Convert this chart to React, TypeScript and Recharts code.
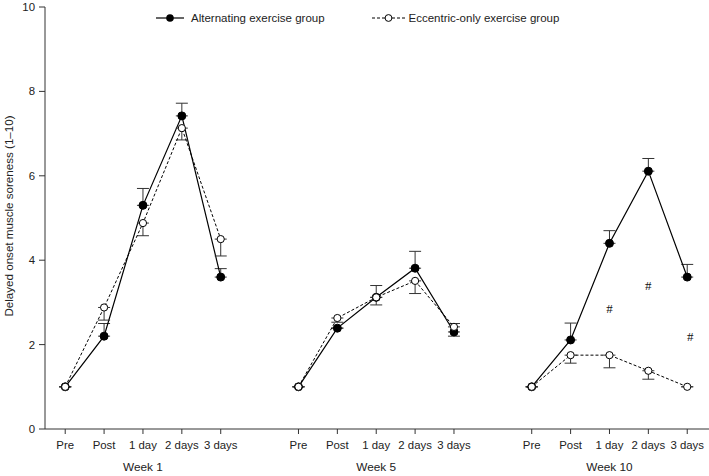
import React from 'react';
import { ComposedChart, Line, XAxis, YAxis, ErrorBar, Scatter } from 'recharts';

const categories = ['Pre', 'Post', '1 day', '2 days', '3 days'];
const weeks = ['Week 1', 'Week 5', 'Week 10'];
const seriesNames = ['Alternating exercise group', 'Eccentric-only exercise group'];
const yTicks = [0, 2, 4, 6, 8, 10];
const yLabel = 'Delayed onset muscle soreness (1\u201310)';

// per week: Pre, Post, 1 day, 2 days, 3 days
const alternating = [
  [1.0, 2.2, 5.3, 7.42, 3.6],
  [1.0, 2.39, 3.12, 3.81, 2.3],
  [1.0, 2.11, 4.4, 6.11, 3.6],
];
const altErrUp = [
  [0, 0.3, 0.4, 0.3, 0.2],
  [0, 0, 0.28, 0.4, 0],
  [0, 0.4, 0.3, 0.3, 0.3],
];
const altErrDown = [
  [0, 0, 0, 0, 0],
  [0, 0, 0, 0, 0.1],
  [0, 0, 0, 0, 0],
];
const eccentric = [
  [1.0, 2.88, 4.88, 7.13, 4.5],
  [1.0, 2.63, 3.12, 3.51, 2.42],
  [1.0, 1.75, 1.75, 1.38, 1.0],
];
const eccErrDown = [
  [0, 0.3, 0.3, 0.28, 0.4],
  [0, 0.1, 0.18, 0.3, 0],
  [0, 0.19, 0.3, 0.2, 0],
];
const eccErrUp = [
  [0, 0, 0, 0, 0],
  [0, 0, 0, 0, 0.08],
  [0, 0, 0, 0, 0],
];
// significance marks (#) in Week 10
const hashWeek = 2;
const hashCategories = ['1 day', '2 days', '3 days'];
const hashValues = [2.85, 3.39, 2.19];

const GROUP_STEP = categories.length + 1;
const pos = (w: number, c: number) => w * GROUP_STEP + c;

const weekData = weeks.map((_, w) =>
  categories.map((_, c) => ({
    x: pos(w, c),
    alt: alternating[w][c],
    altErr: [altErrDown[w][c], altErrUp[w][c]],
    ecc: eccentric[w][c],
    eccErr: [eccErrDown[w][c], eccErrUp[w][c]],
  }))
);

const hashData = hashCategories.map((c, i) => ({
  x: pos(hashWeek, categories.indexOf(c)) + (i === 2 ? 0.08 : 0),
  y: hashValues[i],
}));

const xTicks = weeks.flatMap((_, w) => categories.map((_, c) => pos(w, c)));

const FONT = '"Liberation Sans", Arial, sans-serif';

const XTick = (props: any) => {
  const { x, y, payload } = props;
  const v = payload.value as number;
  const w = Math.floor(v / GROUP_STEP);
  const c = v - w * GROUP_STEP;
  return (
    <g>
      <text x={x} y={y} dy={13} textAnchor="middle" fontSize={11.4} fill="#222" fontFamily={FONT}>
        {categories[c]}
      </text>
      {c === 2 && (
        <text x={x} y={y} dy={35} textAnchor="middle" fontSize={11.8} fill="#222" fontFamily={FONT}>
          {weeks[w]}
        </text>
      )}
    </g>
  );
};

const YLabel = () => (
  <text x={13} y={216} transform="rotate(-90 13 216)" textAnchor="middle" fontSize={11.6} fill="#222" fontFamily={FONT}>
    {yLabel}
  </text>
);

const AltDot = (props: any) => {
  const { cx, cy } = props;
  if (cx == null || cy == null) return null;
  return <circle cx={cx} cy={cy} r={4} fill="#000" stroke="#000" strokeWidth={1} />;
};
const EccDot = (props: any) => {
  const { cx, cy } = props;
  if (cx == null || cy == null) return null;
  return <circle cx={cx} cy={cy} r={3.6} fill="#fff" stroke="#000" strokeWidth={1} />;
};

const HashShape = (props: any) => {
  const { cx, cy } = props;
  return (
    <text x={cx} y={cy} dy={4.5} textAnchor="middle" fontSize={13} fill="#111" fontFamily='"Liberation Serif", serif'>
      #
    </text>
  );
};

const LegendOverlay = () => (
  <svg width={709} height={30} style={{ display: 'block', position: 'absolute', left: 0, top: 0 }}>
    <line x1={156} x2={184} y1={18} y2={18} stroke="#000" strokeWidth={1.2} />
    <circle cx={170} cy={18} r={3.8} fill="#000" />
    <text x={191} y={22} fontSize={11.5} fill="#222" fontFamily={FONT}>{seriesNames[0]}</text>
    <line x1={372} x2={405} y1={18} y2={18} stroke="#000" strokeWidth={1} strokeDasharray="3 2" />
    <circle cx={388.5} cy={18} r={3.4} fill="#fff" stroke="#000" strokeWidth={1} />
    <text x={408.5} y={22} fontSize={11.5} fill="#222" fontFamily={FONT}>{seriesNames[1]}</text>
  </svg>
);

export default function App() {
  return (
    <div style={{ position: 'absolute', left: 0, top: 0, width: 709, height: 476, background: '#fff' }}>
      <ComposedChart
        width={709}
        height={476}
        margin={{ top: 7, right: 0, bottom: 0, left: 0 }}
        style={{ fontFamily: FONT }}
      >
        <XAxis
          type="number"
          dataKey="x"
          domain={[-0.52, 16.56]}
          ticks={xTicks}
          allowDataOverflow
          height={47}
          tickSize={5}
          tickMargin={2}
          tick={<XTick />}
          axisLine={{ stroke: '#333' }}
          tickLine={{ stroke: '#333' }}
          interval={0}
        />
        <YAxis
          type="number"
          domain={[0, 10]}
          ticks={yTicks}
          width={45}
          tickSize={6}
          tickMargin={4}
          tick={{ fontSize: 11.4, fill: '#222', fontFamily: FONT }}
          axisLine={{ stroke: '#333' }}
          tickLine={{ stroke: '#333' }}
          label={<YLabel />}
        />
        {weekData.map((d, w) => (
          <Line
            key={'alt' + w}
            data={d}
            dataKey="alt"
            stroke="#000"
            strokeWidth={1.2}
            dot={<AltDot />}
            activeDot={false}
            isAnimationActive={false}
            legendType="none"
          >
            <ErrorBar dataKey="altErr" direction="y" width={6} stroke="#333" strokeWidth={1} />
          </Line>
        ))}
        {weekData.map((d, w) => (
          <Line
            key={'ecc' + w}
            data={d}
            dataKey="ecc"
            stroke="#000"
            strokeWidth={1}
            strokeDasharray="3 2"
            dot={<EccDot />}
            activeDot={false}
            isAnimationActive={false}
            legendType="none"
          >
            <ErrorBar dataKey="eccErr" direction="y" width={6} stroke="#333" strokeWidth={1} />
          </Line>
        ))}
        <Scatter data={hashData} dataKey="y" shape={<HashShape />} isAnimationActive={false} legendType="none" />
      </ComposedChart>
      <LegendOverlay />
    </div>
  );
}
